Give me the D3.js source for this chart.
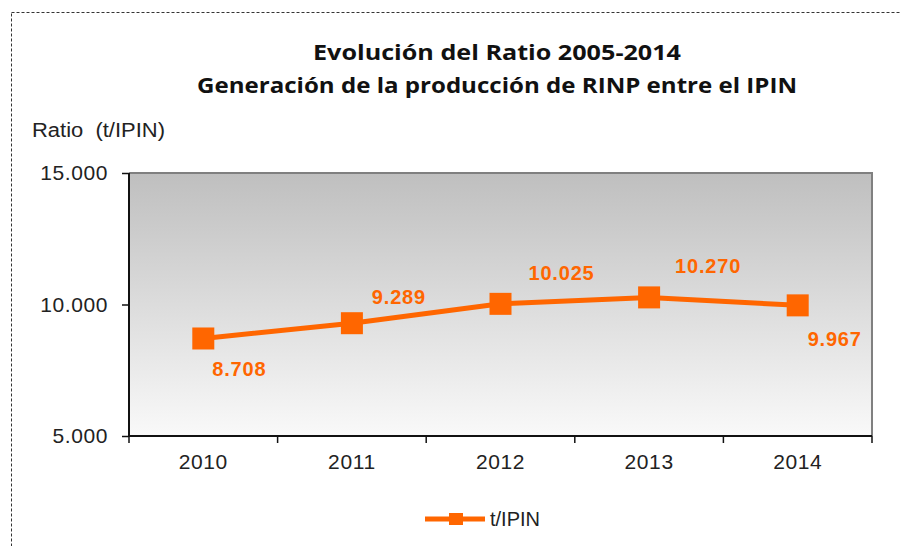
<!DOCTYPE html>
<html>
<head>
<meta charset="utf-8">
<script src="https://cdn.jsdelivr.net/npm/d3@7"></script>
<style>
  body { margin: 0; background: #fff; }
  svg { display: block; }
</style>
</head>
<body>
<script>

// chart data
var years = ["2010", "2011", "2012", "2013", "2014"];
var ratio = [8.708, 9.289, 10.025, 10.270, 9.967];
var yTicks = [5, 10, 15];
var titleLines = ["Evolución del Ratio 2005-2014", "Generación de la producción de RINP entre el IPIN"];
var seriesName = "t/IPIN";
var yLabel = "Ratio  (t/IPIN)";

var W = 901, H = 546;
var plot = { left: 129, top: 173, right: 872, bottom: 436 };
var orange = "#FF6600";
var font = "'Liberation Sans', Arial, sans-serif";

// label placement (layout only) relative to each marker
var labelDx = [36, 47, 61, 59, 37];
var labelDy = [38, -19, -24, -24, 41];

var svg = d3.select("body").append("svg")
	.attr("width", W)
	.attr("height", H);

// outer dashed frame
svg.append("rect")
	.attr("x", 11.5).attr("y", 12.5)
	.attr("width", W + 10).attr("height", H + 10)
	.style("fill", "none")
	.style("stroke", "#333")
	.style("stroke-width", 1)
	.style("stroke-dasharray", "3,2");

// gradient for plot area
var grad = svg.append("defs").append("linearGradient")
	.attr("id", "bg").attr("x1", 0).attr("y1", 0).attr("x2", 0).attr("y2", 1);
grad.append("stop").attr("offset", "0%").attr("stop-color", "#BFBFBF");
grad.append("stop").attr("offset", "100%").attr("stop-color", "#F9F9F9");

var x = d3.scaleBand()
	.domain(years)
	.range([plot.left, plot.right]);

var y = d3.scaleLinear()
	.domain([5, 15])
	.range([plot.bottom, plot.top]);

svg.append("rect")
	.attr("x", plot.left).attr("y", plot.top)
	.attr("width", plot.right - plot.left)
	.attr("height", plot.bottom - plot.top)
	.style("fill", "url(#bg)");

// gray frame top + right
svg.append("path")
	.attr("d", "M" + plot.left + "," + plot.top + "H" + plot.right + "V" + plot.bottom)
	.style("fill", "none")
	.style("stroke", "#808080")
	.style("stroke-width", 2);

// titles
var titleWidths = [368, 600];
svg.selectAll("text.title")
	.data(titleLines)
	.enter()
	.append("text")
	.attr("class", "title")
	.attr("x", 497)
	.attr("y", function(d, i) { return 60 + i * 33; })
	.attr("text-anchor", "middle")
	.attr("textLength", function(d, i) { return titleWidths[i]; })
	.attr("lengthAdjust", "spacingAndGlyphs")
	.style("font-family", "'Open Sans', sans-serif")
	.style("font-weight", "bold")
	.style("font-size", "21px")
	.style("fill", "#111")
	.text(function(d) { return d; });

svg.append("text")
	.attr("x", 32).attr("y", 137)
	.attr("textLength", 133)
	.attr("lengthAdjust", "spacingAndGlyphs")
	.style("font-family", font)
	.style("font-size", "20px")
	.style("white-space", "pre")
	.style("fill", "#222")
	.text(yLabel);

// axes
var yAxis = svg.append("g")
	.attr("transform", "translate(" + plot.left + ",0)")
	.call(d3.axisLeft(y).tickValues(yTicks).tickSize(7).tickPadding(14)
		.tickFormat(function(d) { return d3.format(".3f")(d); }));

var xAxis = svg.append("g")
	.attr("transform", "translate(0," + plot.bottom + ")")
	.call(d3.axisBottom(x).tickSize(0).tickPadding(18));

// x tick marks between the categories
var bounds = years.map(function(d) { return x(d); }).concat([plot.right]);
svg.selectAll("line.xtick")
	.data(bounds)
	.enter()
	.append("line")
	.attr("class", "xtick")
	.attr("x1", function(d) { return d; })
	.attr("x2", function(d) { return d; })
	.attr("y1", plot.bottom)
	.attr("y2", plot.bottom + 7)
	.style("stroke", "#111")
	.style("stroke-width", 1.5);

[yAxis, xAxis].forEach(function(g) {
	g.select(".domain").style("stroke", "#111").style("stroke-width", 2);
	g.selectAll(".tick line").style("stroke", "#111").style("stroke-width", 1.5);
	g.selectAll("text")
		.style("font-family", font)
		.style("font-size", "21px")
		.style("letter-spacing", "0.6px")
		.style("fill", "#222");
});
yAxis.select(".domain").attr("d", "M0," + plot.bottom + "V" + plot.top);
xAxis.select(".domain").attr("d", "M" + plot.left + ",0H" + plot.right);

// series
var pts = years.map(function(d, i) { return { year: d, v: ratio[i] }; });
var cx = function(d) { return x(d.year) + x.bandwidth() / 2; };

svg.append("path")
	.datum(pts)
	.attr("d", d3.line().x(cx).y(function(d) { return y(d.v); }))
	.style("fill", "none")
	.style("stroke", orange)
	.style("stroke-width", 5);

svg.selectAll("rect.marker")
	.data(pts)
	.enter()
	.append("rect")
	.attr("class", "marker")
	.attr("x", function(d) { return cx(d) - 11; })
	.attr("y", function(d) { return y(d.v) - 11; })
	.attr("width", 22).attr("height", 22)
	.style("fill", orange);

// data labels
svg.selectAll("text.lbl")
	.data(pts)
	.enter()
	.append("text")
	.attr("class", "lbl")
	.attr("x", function(d, i) { return cx(d) + labelDx[i]; })
	.attr("y", function(d, i) { return y(d.v) + labelDy[i]; })
	.attr("text-anchor", "middle")
	.style("font-family", font)
	.style("font-weight", "bold")
	.style("font-size", "20px")
	.style("letter-spacing", "0.8px")
	.style("fill", orange)
	.text(function(d) { return d3.format(".3f")(d.v); });

// legend
var lg = svg.append("g").attr("transform", "translate(425,519)");
lg.append("line")
	.attr("x1", 0).attr("x2", 60).attr("y1", 0).attr("y2", 0)
	.style("stroke", orange).style("stroke-width", 5);
lg.append("rect")
	.attr("x", 24).attr("y", -6).attr("width", 14).attr("height", 12)
	.style("fill", orange);
lg.append("text")
	.attr("x", 65).attr("y", 7)
	.style("font-family", font)
	.style("font-size", "20px")
	.style("fill", "#222")
	.text(seriesName);

</script>
</body>
</html>
